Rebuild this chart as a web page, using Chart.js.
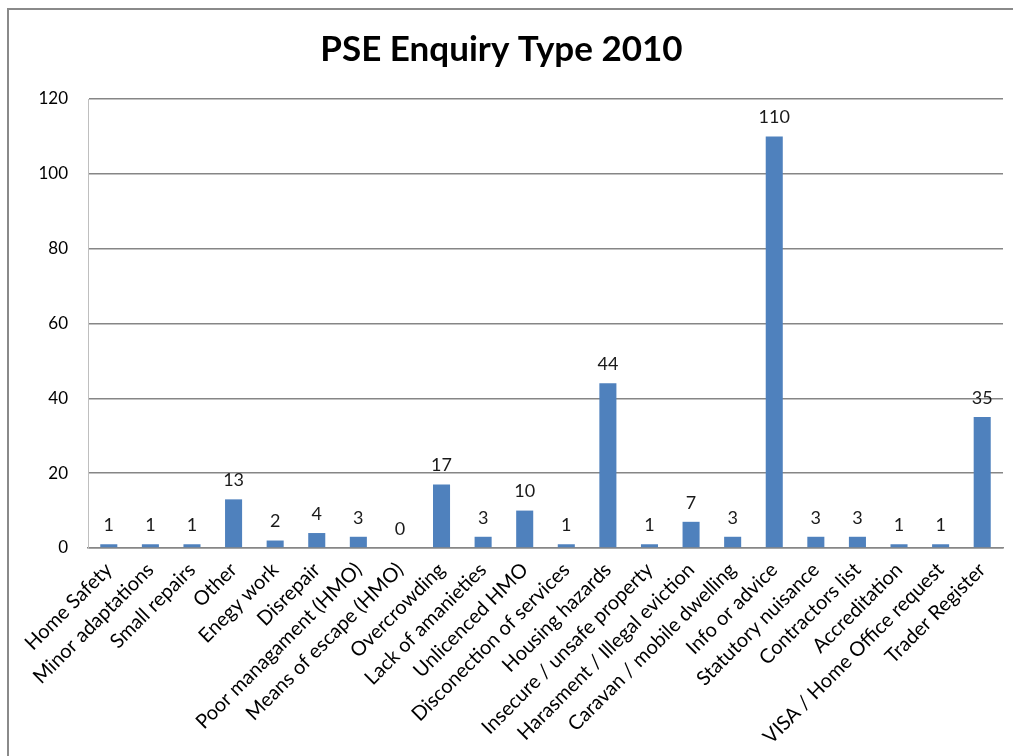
<!DOCTYPE html>
<html>
<head>
<meta charset="utf-8">
<script src="https://cdn.jsdelivr.net/npm/chart.js@4.4.0/dist/chart.umd.min.js"></script>
<style>
  html, body { margin: 0; padding: 0; background: #fff; }
  #wrap { position: absolute; left: 0; top: 0; width: 1013px; height: 756px; }
</style>
</head>
<body>
<div id="wrap"><canvas id="c" width="1013" height="756"></canvas></div>
<script>
const titleText = "PSE Enquiry Type 2010";
const categories = [
  "Home Safety", "Minor adaptations", "Small repairs", "Other", "Enegy work",
  "Disrepair", "Poor managament (HMO)", "Means of escape (HMO)", "Overcrowding",
  "Lack of amanieties", "Unlicenced HMO", "Disconection of services",
  "Housing hazards", "Insecure / unsafe property", "Harasment / Illegal eviction",
  "Caravan / mobile dwelling", "Info or advice", "Statutory nuisance",
  "Contractors list", "Accreditation", "VISA / Home Office request", "Trader Register"
];
const enquiries = [1, 1, 1, 13, 2, 4, 3, 0, 17, 3, 10, 1, 44, 1, 7, 3, 110, 3, 3, 1, 1, 35];
const yTicks = [0, 20, 40, 60, 80, 100, 120];

const FONT = "Lato, 'Open Sans', sans-serif";

const frame = {
  id: 'frame',
  beforeDraw(chart) {
    const ctx = chart.ctx;
    ctx.save();
    ctx.fillStyle = '#ffffff';
    ctx.fillRect(0, 0, chart.width, chart.height);
    ctx.strokeStyle = '#8a8a8a';
    ctx.lineWidth = 2;
    ctx.beginPath();
    ctx.moveTo(8, chart.height);
    ctx.lineTo(8, 9);
    ctx.lineTo(chart.width, 9);
    ctx.stroke();
    ctx.restore();
  }
};

const valueLabels = {
  id: 'valueLabels',
  afterDatasetsDraw(chart) {
    const ctx = chart.ctx;
    const meta = chart.getDatasetMeta(0);
    ctx.save();
    ctx.font = "18px " + FONT;
    ctx.fillStyle = '#1a1a1a';
    ctx.textAlign = 'center';
    ctx.textBaseline = 'bottom';
    meta.data.forEach((bar, i) => {
      ctx.fillText(String(enquiries[i]), bar.x, bar.y - 10);
    });
    ctx.restore();
  }
};

new Chart(document.getElementById('c'), {
  type: 'bar',
  data: {
    labels: categories,
    datasets: [{
      data: enquiries,
      backgroundColor: '#4F81BD',
      borderWidth: 0,
      categoryPercentage: 1.0,
      barPercentage: 0.41
    }]
  },
  options: {
    responsive: false,
    animation: false,
    devicePixelRatio: 1,
    layout: { padding: { left: 0, right: 10, top: 0, bottom: 0 } },
    plugins: {
      legend: { display: false },
      tooltip: { enabled: false },
      title: {
        display: true,
        text: titleText,
        color: '#000',
        font: { family: FONT, size: 35, weight: 'bold' },
        padding: { top: 29, bottom: 28 }
      }
    },
    scales: {
      x: {
        grid: { display: false, drawTicks: false },
        border: { display: true, color: '#868686', width: 1.5 },
        ticks: {
          color: '#000',
          font: { family: FONT, size: 20 },
          maxRotation: 45, minRotation: 45,
          autoSkip: false,
          padding: 10
        },
        afterFit(scale) { scale.height = 208; }
      },
      y: {
        min: 0, max: 120,
        afterBuildTicks(scale) { scale.ticks = yTicks.map(v => ({ value: v })); },
        grid: { color: '#868686', lineWidth: 1.5, drawTicks: false },
        border: { display: true, color: '#bfbfbf', width: 1 },
        ticks: {
          color: '#000',
          font: { family: FONT, size: 17 },
          padding: 20
        },
        afterFit(scale) { scale.width = 88; }
      }
    }
  },
  plugins: [frame, valueLabels]
});
</script>
</body>
</html>
